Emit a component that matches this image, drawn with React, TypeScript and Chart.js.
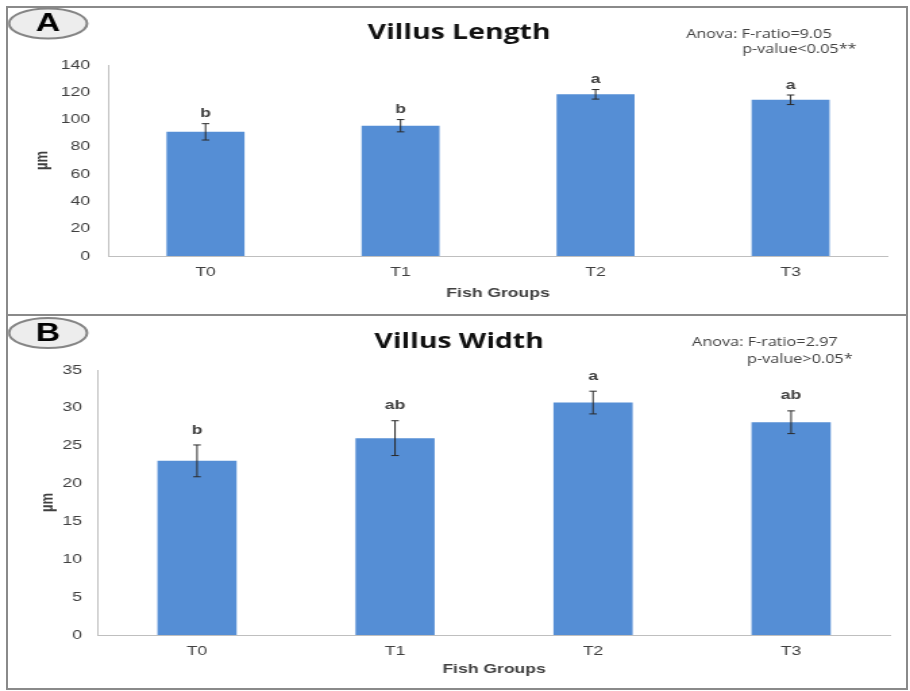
import React, { useEffect, useRef } from 'react';
import { Chart, registerables } from 'chart.js';

Chart.register(...registerables);

// ---- data ----
const categories = ['T0', 'T1', 'T2', 'T3'];
const lengthMeans = [91, 95.5, 118.5, 114.5];
const lengthErrors = [6, 4.5, 3.5, 3.5];
const lengthLetters = ['b', 'b', 'a', 'a'];
const lengthMax = 140;
const lengthStep = 20;
const lengthAnova = ['Anova: F-ratio=9.05', 'p-value<0.05**'];

const widthMeans = [23, 26, 30.7, 28.1];
const widthErrors = [2.1, 2.3, 1.5, 1.5];
const widthLetters = ['b', 'ab', 'a', 'ab'];
const widthMax = 35;
const widthStep = 5;
const widthAnova = ['Anova: F-ratio=2.97', 'p-value>0.05*'];

// ---- layout ----
const S = 1.35; // the figure is horizontally stretched
const PAGE_W = 910;
const W = Math.round(PAGE_W / S);

const BAR = '#558ED5';
const TEXT = '#404040';
const AXIS = '#BFBFBF';

type PanelProps = {
  top: number;
  height: number;
  badge: string;
  badgeY: number;
  title: string;
  titleCenter: number;
  titlePad: { top: number; bottom: number };
  anova: string[];
  anovaPos: number[][];
  means: number[];
  errors: number[];
  letters: string[];
  max: number;
  step: number;
  left: number;
  right: number;
  tickPad: number;
  yTitleX: number;
  xTickPad: number;
  xTitlePadBottom: number;
  chartBottom: number;
  letterOffset: number;
};

function Panel(p: PanelProps) {
  const ref = useRef<HTMLCanvasElement | null>(null);
  useEffect(() => {
    if (!ref.current) return;
    const rightPad = W - p.right / S;
    const leftPad = 2 * (p.titleCenter / S) - p.right / S;
    const overlay = {
      id: 'overlay',
      afterDatasetsDraw(chart: any) {
        const ctx = chart.ctx;
        const xs = chart.scales.x;
        const ys = chart.scales.y;
        ctx.save();
        p.means.forEach((m, i) => {
          const px = xs.getPixelForValue(i);
          const t = ys.getPixelForValue(m + p.errors[i]);
          const b = ys.getPixelForValue(m - p.errors[i]);
          ctx.strokeStyle = '#2b2b2b';
          ctx.lineWidth = 1;
          ctx.beginPath();
          ctx.moveTo(px, t);
          ctx.lineTo(px, b);
          ctx.moveTo(px - 2.8, t);
          ctx.lineTo(px + 2.8, t);
          ctx.moveTo(px - 2.8, b);
          ctx.lineTo(px + 2.8, b);
          ctx.stroke();
          ctx.fillStyle = TEXT;
          ctx.font = 'bold 13px "Liberation Sans", Arial, sans-serif';
          ctx.textAlign = 'center';
          ctx.textBaseline = 'middle';
          ctx.fillText(p.letters[i], px, t - p.letterOffset);
        });
        ctx.restore();
      },
      afterDraw(chart: any) {
        const ctx = chart.ctx;
        ctx.save();
        // ANOVA text
        ctx.fillStyle = TEXT;
        ctx.font = '12px "Open Sans", sans-serif';
        ctx.textAlign = 'left';
        ctx.textBaseline = 'middle';
        p.anova.forEach((s, i) => {
          ctx.fillText(s, p.anovaPos[i][0] / S, p.anovaPos[i][1]);
        });
        // badge
        const cx = 48 / S;
        ctx.beginPath();
        ctx.ellipse(cx, p.badgeY, 39 / S, 15, 0, 0, Math.PI * 2);
        ctx.fillStyle = '#EDEDED';
        ctx.fill();
        ctx.lineWidth = 2;
        ctx.strokeStyle = '#858585';
        ctx.stroke();
        ctx.fillStyle = '#000';
        ctx.font = 'bold 25px "Liberation Sans", Arial, sans-serif';
        ctx.textAlign = 'center';
        ctx.textBaseline = 'middle';
        ctx.fillText(p.badge, cx, p.badgeY + 1);
        ctx.restore();
      },
    };

    const chart = new Chart(ref.current, {
      type: 'bar',
      data: {
        labels: categories,
        datasets: [
          {
            data: p.means,
            backgroundColor: BAR,
            borderWidth: 0,
            barPercentage: 0.4,
            categoryPercentage: 1,
          },
        ],
      },
      options: {
        responsive: false,
        animation: false,
        devicePixelRatio: 1,
        layout: { padding: { left: leftPad, right: rightPad, top: 0, bottom: 0 } },
        plugins: {
          legend: { display: false },
          tooltip: { enabled: false },
          title: {
            display: true,
            text: p.title,
            color: '#111',
            font: { family: '"Open Sans", sans-serif', size: 21, weight: 'bold', lineHeight: 1.2 },
            padding: p.titlePad,
          },
        },
        scales: {
          x: {
            grid: { display: false, drawTicks: false },
            border: { display: true, color: AXIS, width: 1 },
            ticks: {
              color: TEXT,
              padding: p.xTickPad,
              font: { family: '"Liberation Sans", Arial, sans-serif', size: 13 },
            },
            title: {
              display: true,
              text: 'Fish Groups',
              color: TEXT,
              font: { family: '"Liberation Sans", Arial, sans-serif', size: 13, weight: 'bold', lineHeight: 1.2 },
              padding: { top: 0, bottom: p.xTitlePadBottom },
            },
            afterFit: (s: any) => {
              s.height = p.height - p.chartBottom;
            },
          },
          y: {
            min: 0,
            max: p.max,
            grid: { display: false, drawTicks: false },
            border: { display: true, color: AXIS, width: 1 },
            ticks: {
              stepSize: p.step,
              color: TEXT,
              padding: p.tickPad / S,
              font: { family: '"Liberation Sans", Arial, sans-serif', size: 13 },
            },
            title: {
              display: true,
              text: 'µm',
              color: TEXT,
              font: { family: '"Liberation Sans", Arial, sans-serif', size: 13, weight: 'bold', lineHeight: 1.2 },
              padding: { top: p.yTitleX / S - 7.8 - leftPad, bottom: 0 },
            },
            afterFit: (s: any) => {
              s.width = p.left / S - leftPad;
            },
          },
        },
      },
      plugins: [overlay],
    } as any);
    return () => chart.destroy();
  }, []);

  return (
    <canvas
      ref={ref}
      width={W}
      height={p.height}
      style={{ position: 'absolute', left: 0, top: p.top, width: PAGE_W, height: p.height }}
    />
  );
}

export default function App() {
  return (
    <div
      style={{
        position: 'absolute',
        left: 0,
        top: 0,
        width: 910,
        height: 691,
        background: '#fff',
        overflow: 'hidden',
      }}
    >
      <div
        style={{
          position: 'absolute',
          left: 6,
          top: 6,
          width: 898,
          height: 680,
          border: '2px solid #8a8a8a',
        }}
      />
      <div style={{ position: 'absolute', left: 6, top: 314, width: 902, height: 2, background: '#8a8a8a' }} />
      <Panel
        top={0}
        height={312}
        badge="A"
        badgeY={23.5}
        title="Villus Length"
        titleCenter={459}
        titlePad={{ top: 20.4, bottom: 19.4 }}
        anova={lengthAnova}
        anovaPos={[
          [686, 35],
          [742, 50],
        ]}
        means={lengthMeans}
        errors={lengthErrors}
        letters={lengthLetters}
        max={lengthMax}
        step={lengthStep}
        left={108}
        right={888}
        tickPad={18}
        yTitleX={43}
        xTickPad={9}
        xTitlePadBottom={11}
        chartBottom={256}
        letterOffset={10}
      />
      <Panel
        top={312}
        height={379}
        badge="B"
        badgeY={21}
        title="Villus Width"
        titleCenter={459}
        titlePad={{ top: 17.4, bottom: 15.4 }}
        anova={widthAnova}
        anovaPos={[
          [692, 31],
          [747, 48],
        ]}
        means={widthMeans}
        errors={widthErrors}
        letters={widthLetters}
        max={widthMax}
        step={widthStep}
        left={98}
        right={890}
        tickPad={16}
        yTitleX={48}
        xTickPad={9}
        xTitlePadBottom={14}
        chartBottom={323}
        letterOffset={15}
      />
    </div>
  );
}
